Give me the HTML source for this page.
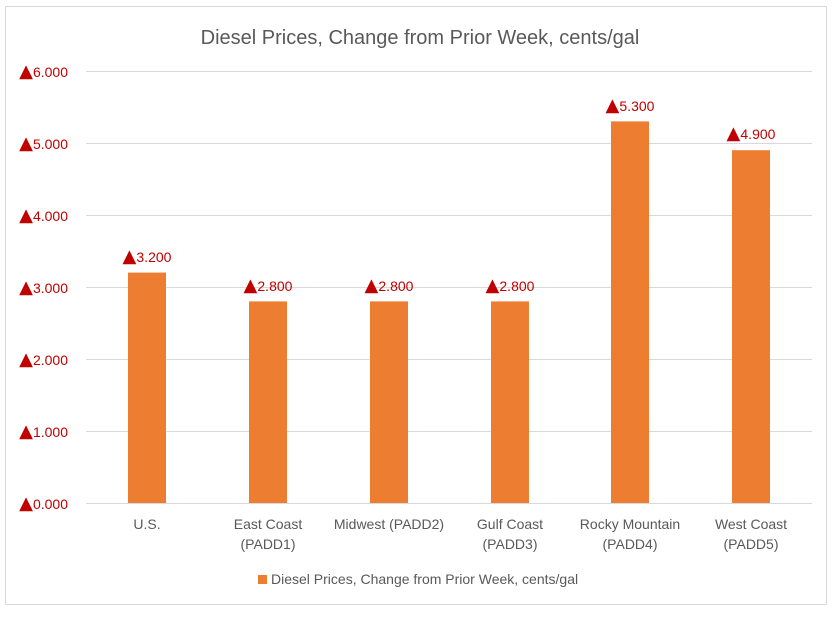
<!DOCTYPE html>
<html><head><style>
body{margin:0;background:#fff;}
svg text{font-family:"Liberation Sans",sans-serif;}
.t{font-size:18px;font-family:"DejaVu Sans",sans-serif;}
</style></head><body>
<svg width="840" height="614" xmlns="http://www.w3.org/2000/svg">
<rect x="0" y="0" width="840" height="614" fill="#fff"/>
<rect x="5.5" y="6.5" width="821" height="598" fill="#fff" stroke="#d9d9d9"/>
<text x="420" y="44" text-anchor="middle" font-size="20" fill="#595959">Diesel Prices, Change from Prior Week, cents/gal</text>
<g stroke="#d9d9d9" stroke-width="1">
<line x1="86" x2="812" y1="71.5" y2="71.5"/>
<line x1="86" x2="812" y1="143.5" y2="143.5"/>
<line x1="86" x2="812" y1="215.5" y2="215.5"/>
<line x1="86" x2="812" y1="287.5" y2="287.5"/>
<line x1="86" x2="812" y1="359.5" y2="359.5"/>
<line x1="86" x2="812" y1="431.5" y2="431.5"/>
<line x1="86" x2="812" y1="503.5" y2="503.5"/>
</g>
<g font-size="14" fill="#c00000" text-anchor="end">
<text x="68" y="77"><tspan class="t">▲</tspan>6.000</text>
<text x="68" y="149"><tspan class="t">▲</tspan>5.000</text>
<text x="68" y="221"><tspan class="t">▲</tspan>4.000</text>
<text x="68" y="293"><tspan class="t">▲</tspan>3.000</text>
<text x="68" y="365"><tspan class="t">▲</tspan>2.000</text>
<text x="68" y="437"><tspan class="t">▲</tspan>1.000</text>
<text x="68" y="509"><tspan class="t">▲</tspan>0.000</text>
</g>
<g fill="#ed7d31">
<rect x="128" y="272.6" width="38" height="230.4"/>
<rect x="249" y="301.4" width="38" height="201.6"/>
<rect x="370" y="301.4" width="38" height="201.6"/>
<rect x="491" y="301.4" width="38" height="201.6"/>
<rect x="611" y="121.4" width="38" height="381.6"/>
<rect x="732" y="150.2" width="38" height="352.8"/>
</g>
<g font-size="14" fill="#c00000" text-anchor="middle">
<text x="147" y="262"><tspan class="t">▲</tspan>3.200</text>
<text x="268" y="291"><tspan class="t">▲</tspan>2.800</text>
<text x="389" y="291"><tspan class="t">▲</tspan>2.800</text>
<text x="510" y="291"><tspan class="t">▲</tspan>2.800</text>
<text x="630" y="111"><tspan class="t">▲</tspan>5.300</text>
<text x="751" y="139"><tspan class="t">▲</tspan>4.900</text>
</g>
<g font-size="14" fill="#595959" text-anchor="middle">
<text x="147" y="529">U.S.</text>
<text x="268" y="529">East Coast</text><text x="268" y="549">(PADD1)</text>
<text x="389" y="529">Midwest (PADD2)</text>
<text x="510" y="529">Gulf Coast</text><text x="510" y="549">(PADD3)</text>
<text x="630" y="529">Rocky Mountain</text><text x="630" y="549">(PADD4)</text>
<text x="751" y="529">West Coast</text><text x="751" y="549">(PADD5)</text>
</g>
<rect x="258" y="575" width="9" height="9" fill="#ed7d31"/>
<text x="271" y="584" font-size="14" fill="#595959">Diesel Prices, Change from Prior Week, cents/gal</text>
</svg>
</body></html>
